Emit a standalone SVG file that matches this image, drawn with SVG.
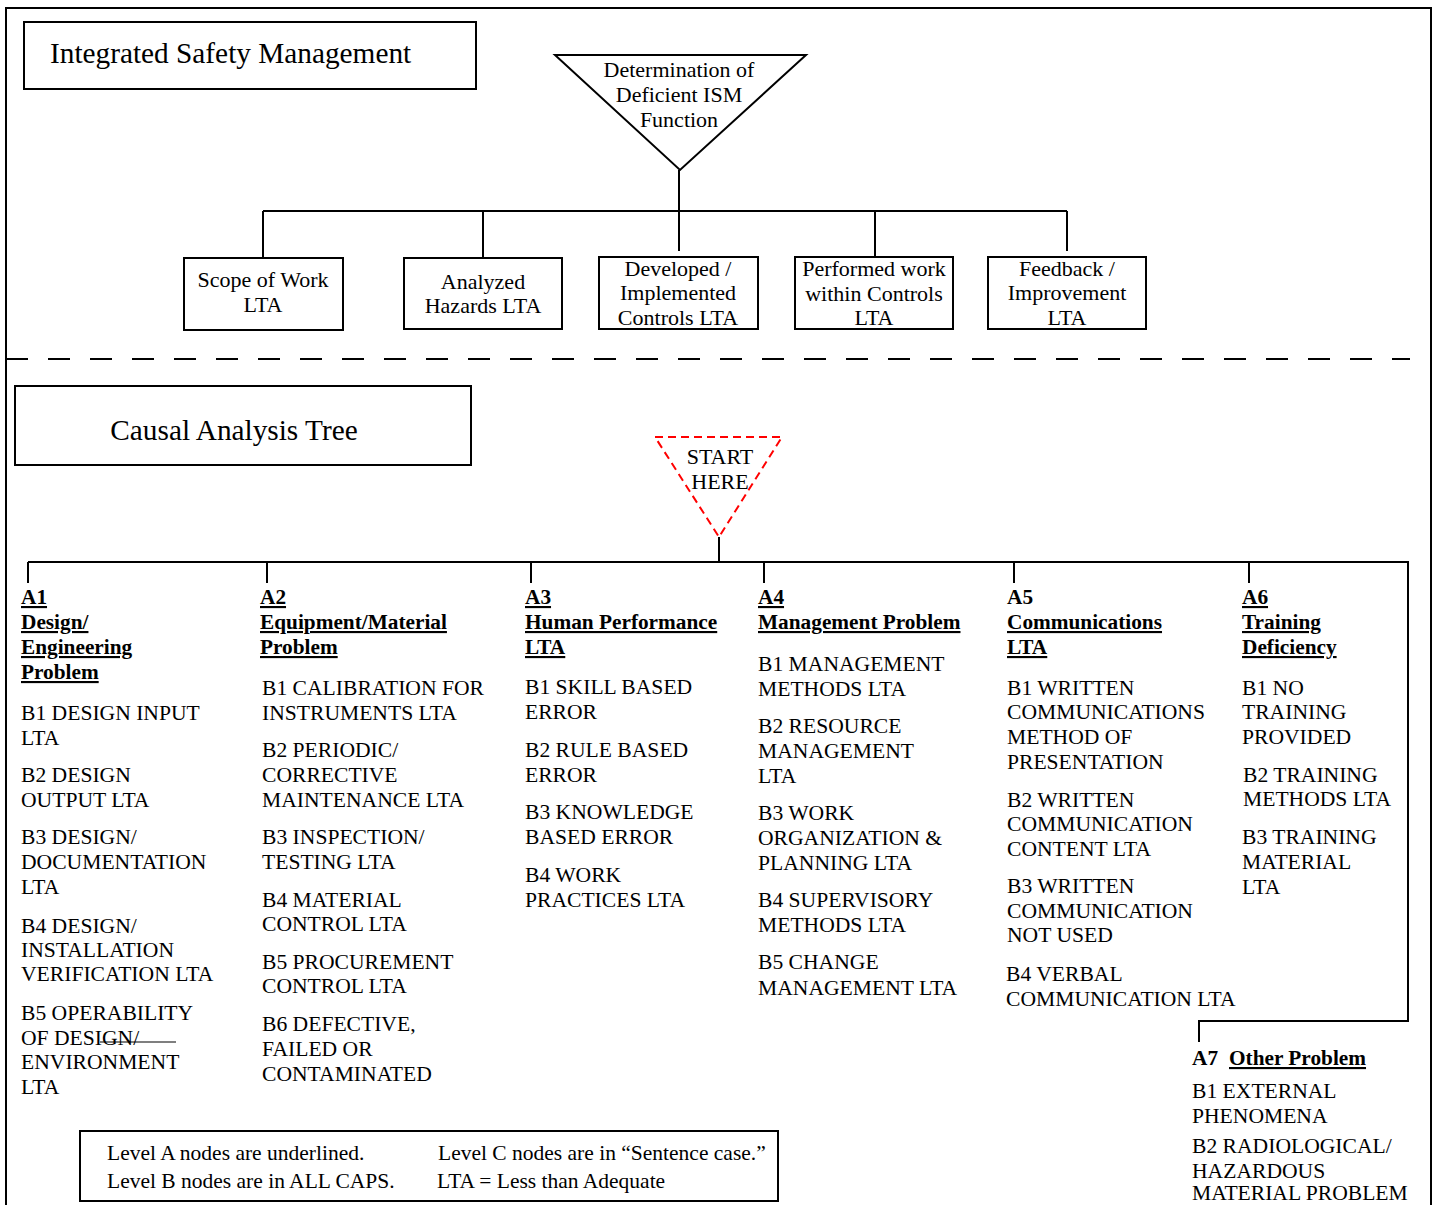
<svg xmlns="http://www.w3.org/2000/svg" width="1437" height="1205" viewBox="0 0 1437 1205">
<style>
.t{font-family:"Liberation Serif","Times New Roman",serif;font-size:21.6px;fill:#000}
.m{text-anchor:middle}
.n{font-size:22px}
.h{font-weight:bold;text-decoration:underline;font-size:21.3px}
.b{font-weight:bold;font-size:21.3px}
.big{font-size:29.3px}
.lg{font-size:21.5px}
.box{fill:#fff;stroke:#000;stroke-width:2}
.ln{fill:none;stroke:#000;stroke-width:2}
</style>
<rect width="1437" height="1205" fill="#fff"/>
<path class="ln" d="M6,1205 V8 H1431 V1205"/>
<g id="connectors">
<path class="ln" d="M679,170 V251 M263,211 H1067 M263,211 V258 M483,211 V258 M875,211 V257 M1067,211 V251"/>
<line x1="6" y1="359" x2="1410" y2="359" stroke="#000" stroke-width="2" stroke-dasharray="22,20"/>
<path class="ln" d="M719,537 V562 M28,562 H1408 V1021 H1199 V1042 M28,562 V583 M267,562 V583 M531,562 V583 M764,562 V583 M1014,562 V583 M1249,562 V583"/>
<line x1="100" y1="1042" x2="176" y2="1042" stroke="#000" stroke-width="1.2"/>
</g>
<g id="ism-title"><rect class="box" x="24" y="22" width="452" height="67"/><text class="t big" x="50" y="63">Integrated Safety Management</text></g>
<g id="ism-root"><polygon class="box" points="555,55 806,55 680,170"/>
<text class="t n m" x="679" y="77">Determination of</text><text class="t n m" x="679" y="102">Deficient ISM</text><text class="t n m" x="679" y="127">Function</text></g>
<g id="scope"><rect class="box" x="184" y="258" width="159" height="72"/><text class="t n m" x="263" y="287">Scope of Work</text><text class="t n m" x="263" y="312">LTA</text></g>
<g id="hazards"><rect class="box" x="404" y="258" width="158" height="71"/><text class="t n m" x="483" y="289">Analyzed</text><text class="t n m" x="483" y="313">Hazards LTA</text></g>
<g id="controls"><rect class="box" x="599" y="257" width="159" height="72"/><text class="t n m" x="678" y="276">Developed /</text><text class="t n m" x="678" y="300">Implemented</text><text class="t n m" x="678" y="325">Controls LTA</text></g>
<g id="performed"><rect class="box" x="795" y="257" width="158" height="72"/><text class="t n m" x="874" y="276">Performed work</text><text class="t n m" x="874" y="301">within Controls</text><text class="t n m" x="874" y="325">LTA</text></g>
<g id="feedback"><rect class="box" x="988" y="257" width="158" height="72"/><text class="t n m" x="1067" y="276">Feedback /</text><text class="t n m" x="1067" y="300">Improvement</text><text class="t n m" x="1067" y="325">LTA</text></g>
<g id="cat-title"><rect class="box" x="15" y="386" width="456" height="79"/><text class="t big m" x="234" y="440">Causal Analysis Tree</text></g>
<g id="start"><polygon points="655,437 782,437 719,537" fill="#fff" stroke="#f00" stroke-width="2" stroke-dasharray="8,5"/>
<text class="t n m" x="720" y="464">START</text><text class="t n m" x="720" y="489">HERE</text></g>
<g id="a1">
<text class="t h" x="21" y="604">A1</text><text class="t h" x="21" y="629">Design/</text><text class="t h" x="21" y="654">Engineering</text><text class="t h" x="21" y="679">Problem</text>
<text class="t"><tspan x="21" y="720">B1 DESIGN INPUT</tspan><tspan x="21" y="745">LTA</tspan><tspan x="21" y="782">B2 DESIGN</tspan><tspan x="21" y="807">OUTPUT LTA</tspan><tspan x="21" y="844">B3 DESIGN/</tspan><tspan x="21" y="869">DOCUMENTATION</tspan><tspan x="21" y="894">LTA</tspan><tspan x="21" y="933">B4 DESIGN/</tspan><tspan x="21" y="957">INSTALLATION</tspan><tspan x="21" y="981">VERIFICATION LTA</tspan><tspan x="21" y="1020">B5 OPERABILITY</tspan><tspan x="21" y="1045">OF DESIGN/</tspan><tspan x="21" y="1069">ENVIRONMENT</tspan><tspan x="21" y="1094">LTA</tspan></text>
</g>
<g id="a2">
<text class="t h" x="260" y="604">A2</text><text class="t h" x="260" y="629">Equipment/Material</text><text class="t h" x="260" y="654">Problem</text>
<text class="t"><tspan x="262" y="695">B1 CALIBRATION FOR</tspan><tspan x="262" y="720">INSTRUMENTS LTA</tspan><tspan x="262" y="757">B2 PERIODIC/</tspan><tspan x="262" y="782">CORRECTIVE</tspan><tspan x="262" y="807">MAINTENANCE LTA</tspan><tspan x="262" y="844">B3 INSPECTION/</tspan><tspan x="262" y="869">TESTING LTA</tspan><tspan x="262" y="907">B4 MATERIAL</tspan><tspan x="262" y="931">CONTROL LTA</tspan><tspan x="262" y="969">B5 PROCUREMENT</tspan><tspan x="262" y="993">CONTROL LTA</tspan><tspan x="262" y="1031">B6 DEFECTIVE,</tspan><tspan x="262" y="1056">FAILED OR</tspan><tspan x="262" y="1081">CONTAMINATED</tspan></text>
</g>
<g id="a3">
<text class="t h" x="525" y="604">A3</text><text class="t h" x="525" y="629">Human Performance</text><text class="t h" x="525" y="654">LTA</text>
<text class="t"><tspan x="525" y="694">B1 SKILL BASED</tspan><tspan x="525" y="719">ERROR</tspan><tspan x="525" y="757">B2 RULE BASED</tspan><tspan x="525" y="782">ERROR</tspan><tspan x="525" y="819">B3 KNOWLEDGE</tspan><tspan x="525" y="844">BASED ERROR</tspan><tspan x="525" y="882">B4 WORK</tspan><tspan x="525" y="907">PRACTICES LTA</tspan></text>
</g>
<g id="a4">
<text class="t h" x="758" y="604">A4</text><text class="t h" x="758" y="629">Management Problem</text>
<text class="t"><tspan x="758" y="671">B1 MANAGEMENT</tspan><tspan x="758" y="696">METHODS LTA</tspan><tspan x="758" y="733">B2 RESOURCE</tspan><tspan x="758" y="758">MANAGEMENT</tspan><tspan x="758" y="783">LTA</tspan><tspan x="758" y="820">B3 WORK</tspan><tspan x="758" y="845">ORGANIZATION &amp;</tspan><tspan x="758" y="870">PLANNING LTA</tspan><tspan x="758" y="907">B4 SUPERVISORY</tspan><tspan x="758" y="932">METHODS LTA</tspan><tspan x="758" y="969">B5 CHANGE</tspan><tspan x="758" y="995">MANAGEMENT LTA</tspan></text>
</g>
<g id="a5">
<text class="t b" x="1007" y="604">A5</text><text class="t h" x="1007" y="629">Communications</text><text class="t h" x="1007" y="654">LTA</text>
<text class="t"><tspan x="1007" y="695">B1 WRITTEN</tspan><tspan x="1007" y="719">COMMUNICATIONS</tspan><tspan x="1007" y="744">METHOD OF</tspan><tspan x="1007" y="769">PRESENTATION</tspan><tspan x="1007" y="807">B2 WRITTEN</tspan><tspan x="1007" y="831">COMMUNICATION</tspan><tspan x="1007" y="856">CONTENT LTA</tspan><tspan x="1007" y="893">B3 WRITTEN</tspan><tspan x="1007" y="918">COMMUNICATION</tspan><tspan x="1007" y="942">NOT USED</tspan><tspan x="1006" y="981">B4 VERBAL</tspan><tspan x="1006" y="1006">COMMUNICATION LTA</tspan></text>
</g>
<g id="a6">
<text class="t h" x="1242" y="604">A6</text><text class="t h" x="1242" y="629">Training</text><text class="t h" x="1242" y="654">Deficiency</text>
<text class="t"><tspan x="1242" y="695">B1 NO</tspan><tspan x="1242" y="719">TRAINING</tspan><tspan x="1242" y="744">PROVIDED</tspan><tspan x="1243" y="782">B2 TRAINING</tspan><tspan x="1243" y="806">METHODS LTA</tspan><tspan x="1242" y="844">B3 TRAINING</tspan><tspan x="1242" y="869">MATERIAL</tspan><tspan x="1242" y="894">LTA</tspan></text>
</g>
<g id="a7">
<text class="t b" x="1192" y="1065">A7</text><text class="t h" x="1229" y="1065">Other Problem</text>
<text class="t"><tspan x="1192" y="1098">B1 EXTERNAL</tspan><tspan x="1192" y="1123">PHENOMENA</tspan><tspan x="1192" y="1153">B2 RADIOLOGICAL/</tspan><tspan x="1192" y="1178">HAZARDOUS</tspan><tspan x="1192" y="1200">MATERIAL PROBLEM</tspan></text>
</g>
<g id="legend"><rect class="box" x="80" y="1131" width="698" height="70"/>
<text class="t lg" x="107" y="1160">Level A nodes are underlined.</text><text class="t lg" x="107" y="1188">Level B nodes are in ALL CAPS.</text>
<text class="t lg" x="438" y="1160">Level C nodes are in “Sentence case.”</text><text class="t lg" x="437" y="1188">LTA = Less than Adequate</text></g>
</svg>
